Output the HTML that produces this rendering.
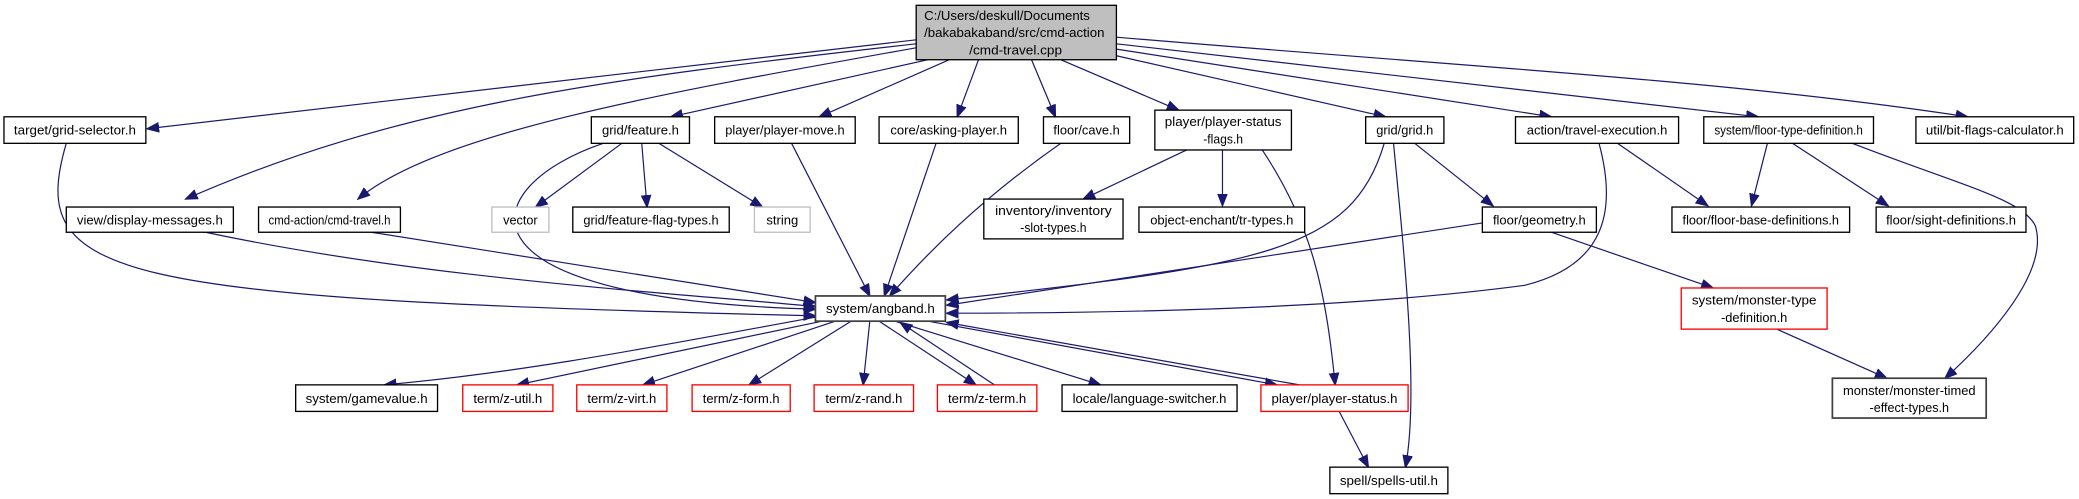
<!DOCTYPE html>
<html><head><meta charset="utf-8"><style>
html,body{margin:0;padding:0;background:#fff;}
svg{display:block}
text{font-family:"Liberation Sans",Arial,sans-serif;font-size:10px;fill:#000}
.e{fill:none;stroke:#191970;stroke-width:0.9}
.n{fill:#fff;stroke:#000;stroke-width:1}
.r{fill:#fff;stroke:#ff0000;stroke-width:1}
.g{fill:#fff;stroke:#bfbfbf;stroke-width:1}
</style></head><body>
<svg width="2079" height="499" viewBox="0 0 1568 376" preserveAspectRatio="none" xmlns="http://www.w3.org/2000/svg">
<defs><marker id="a" markerUnits="userSpaceOnUse" markerWidth="10" markerHeight="8" refX="9" refY="4" orient="auto"><path d="M0,0.5 L9,4 L0,7.5 z" fill="#191970" stroke="#191970"/></marker></defs>
<g marker-end="url(#a)">
<path class="e" d="M691,30 L111,97"/>
<path class="e" d="M691,33 C450,60 300,80 140,150"/>
<path class="e" d="M691,36 C500,70 330,100 270,150"/>
<path class="e" d="M700,45 L506,88"/>
<path class="e" d="M716,45 L618,88"/>
<path class="e" d="M738,45 L722,88"/>
<path class="e" d="M778,45 L796,88"/>
<path class="e" d="M800,45 L889,83"/>
<path class="e" d="M842,42 L1045,88"/>
<path class="e" d="M842,37 L1170,88"/>
<path class="e" d="M842,33 L1326,88"/>
<path class="e" d="M842,28 C1100,50 1300,60 1484,88"/>
<path class="e" d="M50,108 C20,210 80,225 615,238"/>
<path class="e" d="M455,108 C360,140 330,225 615,233"/>
<path class="e" d="M469,108 L404,156"/>
<path class="e" d="M484,108 L488,156"/>
<path class="e" d="M497,108 L575,156"/>
<path class="e" d="M155,175 C320,210 500,220 615,231"/>
<path class="e" d="M280,175 L615,228"/>
<path class="e" d="M597,108 L656,223"/>
<path class="e" d="M706,108 L667,223"/>
<path class="e" d="M800,108 C740,150 700,190 671,223"/>
<path class="e" d="M895,113 L817,150"/>
<path class="e" d="M922,113 L922,155"/>
<path class="e" d="M952,113 C990,170 1000,220 1007,290"/>
<path class="e" d="M1044,108 C1020,190 950,200 714,226"/>
<path class="e" d="M1051,108 C1060,200 1070,300 1060,352"/>
<path class="e" d="M1067,108 L1126,155"/>
<path class="e" d="M1206,108 C1220,160 1210,200 1150,215 C1000,235 800,236 714,236"/>
<path class="e" d="M1220,108 L1288,155"/>
<path class="e" d="M1333,108 L1321,155"/>
<path class="e" d="M1352,108 L1424,155"/>
<path class="e" d="M1397,108 C1480,140 1525,150 1535,170 C1546,205 1500,255 1467,285"/>
<path class="e" d="M1118,168 L714,230"/>
<path class="e" d="M1170,175 L1292,217"/>
<path class="e" d="M1340,248 L1423,285"/>
<path class="e" d="M615,239 C500,260 400,280 290,290"/>
<path class="e" d="M620,242 L390,290"/>
<path class="e" d="M630,242 L485,290"/>
<path class="e" d="M642,242 L565,290"/>
<path class="e" d="M656,242 L651,290"/>
<path class="e" d="M663,242 L736,290"/>
<path class="e" d="M750,290 L679,243"/>
<path class="e" d="M675,242 L830,290"/>
<path class="e" d="M700,242 L963,290"/>
<path class="e" d="M980,290 L714,243"/>
<path class="e" d="M1010,310 L1032,352"/>
</g>
<rect x="691" y="4" width="151" height="41" fill="#bfbfbf" stroke="#000"/>
<text x="697" y="15" textLength="125" lengthAdjust="spacingAndGlyphs">C:/Users/deskull/Documents</text>
<text x="697" y="28" textLength="136" lengthAdjust="spacingAndGlyphs">/bakabakaband/src/cmd-action</text>
<text x="766" y="41" text-anchor="middle" textLength="70" lengthAdjust="spacingAndGlyphs">/cmd-travel.cpp</text>

<rect class="n" x="3" y="88" width="107" height="20"/><text x="56.5" y="101.5" text-anchor="middle" textLength="92" lengthAdjust="spacingAndGlyphs">target/grid-selector.h</text>
<rect class="n" x="446" y="88" width="74" height="20"/><text x="483" y="101.5" text-anchor="middle" textLength="58" lengthAdjust="spacingAndGlyphs">grid/feature.h</text>
<rect class="n" x="539" y="88" width="106" height="20"/><text x="592" y="101.5" text-anchor="middle" textLength="90" lengthAdjust="spacingAndGlyphs">player/player-move.h</text>
<rect class="n" x="663" y="88" width="105" height="20"/><text x="715.5" y="101.5" text-anchor="middle" textLength="88" lengthAdjust="spacingAndGlyphs">core/asking-player.h</text>
<rect class="n" x="787" y="88" width="65" height="20"/><text x="819.5" y="101.5" text-anchor="middle" textLength="50" lengthAdjust="spacingAndGlyphs">floor/cave.h</text>
<rect class="n" x="871" y="83" width="103" height="30"/><text x="922.5" y="95" text-anchor="middle" textLength="88" lengthAdjust="spacingAndGlyphs">player/player-status</text><text x="922.5" y="108" text-anchor="middle" textLength="30" lengthAdjust="spacingAndGlyphs">-flags.h</text>
<rect class="n" x="1030" y="88" width="59" height="20"/><text x="1059.5" y="101.5" text-anchor="middle" textLength="43" lengthAdjust="spacingAndGlyphs">grid/grid.h</text>
<rect class="n" x="1143" y="88" width="123" height="20"/><text x="1204.5" y="101.5" text-anchor="middle" textLength="106" lengthAdjust="spacingAndGlyphs">action/travel-execution.h</text>
<rect class="n" x="1285" y="88" width="128" height="20"/><text x="1349" y="101.5" text-anchor="middle" textLength="112" lengthAdjust="spacingAndGlyphs">system/floor-type-definition.h</text>
<rect class="n" x="1445" y="88" width="119" height="20"/><text x="1504.5" y="101.5" text-anchor="middle" textLength="104" lengthAdjust="spacingAndGlyphs">util/bit-flags-calculator.h</text>

<rect class="n" x="50" y="156" width="126" height="19"/><text x="113" y="169" text-anchor="middle" textLength="110" lengthAdjust="spacingAndGlyphs">view/display-messages.h</text>
<rect class="n" x="195" y="156" width="107" height="19"/><text x="248.5" y="169" text-anchor="middle" textLength="92" lengthAdjust="spacingAndGlyphs">cmd-action/cmd-travel.h</text>
<rect class="g" x="371" y="156" width="43" height="19"/><text x="392.5" y="169" text-anchor="middle" textLength="26" lengthAdjust="spacingAndGlyphs">vector</text>
<rect class="n" x="432" y="156" width="118" height="19"/><text x="491" y="169" text-anchor="middle" textLength="102" lengthAdjust="spacingAndGlyphs">grid/feature-flag-types.h</text>
<rect class="g" x="569" y="156" width="42" height="19"/><text x="590" y="169" text-anchor="middle" textLength="24" lengthAdjust="spacingAndGlyphs">string</text>
<rect class="n" x="742" y="150" width="105" height="30"/><text x="794.5" y="162" text-anchor="middle" textLength="88" lengthAdjust="spacingAndGlyphs">inventory/inventory</text><text x="794.5" y="175" text-anchor="middle" textLength="50" lengthAdjust="spacingAndGlyphs">-slot-types.h</text>
<rect class="n" x="859" y="156" width="125" height="19"/><text x="921.5" y="169" text-anchor="middle" textLength="108" lengthAdjust="spacingAndGlyphs">object-enchant/tr-types.h</text>
<rect class="n" x="1118" y="156" width="86" height="19"/><text x="1161" y="169" text-anchor="middle" textLength="70" lengthAdjust="spacingAndGlyphs">floor/geometry.h</text>
<rect class="n" x="1261" y="156" width="134" height="19"/><text x="1328" y="169" text-anchor="middle" textLength="118" lengthAdjust="spacingAndGlyphs">floor/floor-base-definitions.h</text>
<rect class="n" x="1415" y="156" width="113" height="19"/><text x="1471.5" y="169" text-anchor="middle" textLength="98" lengthAdjust="spacingAndGlyphs">floor/sight-definitions.h</text>

<rect x="615" y="223" width="98" height="19" fill="#fff" stroke="#404040" stroke-width="1.3"/><text x="664" y="236" text-anchor="middle" textLength="82" lengthAdjust="spacingAndGlyphs">system/angband.h</text>
<rect class="r" x="1268" y="217" width="110" height="31"/><text x="1323" y="229.5" text-anchor="middle" textLength="94" lengthAdjust="spacingAndGlyphs">system/monster-type</text><text x="1323" y="242.5" text-anchor="middle" textLength="50" lengthAdjust="spacingAndGlyphs">-definition.h</text>

<rect class="n" x="223" y="290" width="107" height="20"/><text x="276.5" y="303.5" text-anchor="middle" textLength="92" lengthAdjust="spacingAndGlyphs">system/gamevalue.h</text>
<rect class="r" x="349" y="290" width="68" height="20"/><text x="383" y="303.5" text-anchor="middle" textLength="52" lengthAdjust="spacingAndGlyphs">term/z-util.h</text>
<rect class="r" x="435" y="290" width="68" height="20"/><text x="469" y="303.5" text-anchor="middle" textLength="52" lengthAdjust="spacingAndGlyphs">term/z-virt.h</text>
<rect class="r" x="522" y="290" width="74" height="20"/><text x="559" y="303.5" text-anchor="middle" textLength="58" lengthAdjust="spacingAndGlyphs">term/z-form.h</text>
<rect class="r" x="614" y="290" width="75" height="20"/><text x="651.5" y="303.5" text-anchor="middle" textLength="58" lengthAdjust="spacingAndGlyphs">term/z-rand.h</text>
<rect class="r" x="707" y="290" width="75" height="20"/><text x="744.5" y="303.5" text-anchor="middle" textLength="59" lengthAdjust="spacingAndGlyphs">term/z-term.h</text>
<rect class="n" x="801" y="290" width="132" height="20"/><text x="867" y="303.5" text-anchor="middle" textLength="116" lengthAdjust="spacingAndGlyphs">locale/language-switcher.h</text>
<rect class="r" x="951" y="290" width="111" height="20"/><text x="1006.5" y="303.5" text-anchor="middle" textLength="95" lengthAdjust="spacingAndGlyphs">player/player-status.h</text>
<rect x="1382" y="285" width="116" height="30" fill="#fff" stroke="#404040" stroke-width="1.3"/><text x="1440" y="297.5" text-anchor="middle" textLength="100" lengthAdjust="spacingAndGlyphs">monster/monster-timed</text><text x="1440" y="310.5" text-anchor="middle" textLength="60" lengthAdjust="spacingAndGlyphs">-effect-types.h</text>

<rect class="n" x="1003" y="352" width="89" height="20"/><text x="1047.5" y="365.5" text-anchor="middle" textLength="74" lengthAdjust="spacingAndGlyphs">spell/spells-util.h</text>
</svg>
</body></html>
